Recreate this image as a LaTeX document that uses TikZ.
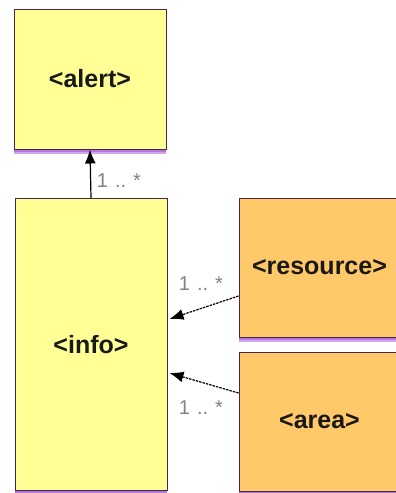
\documentclass[tikz,border=0pt]{standalone}
\usepackage{fontspec}
\setmainfont{Liberation Sans}
\usepackage{tikz}
\usetikzlibrary{arrows.meta,shadows}
\definecolor{boxyellow}{RGB}{255,255,150}
\definecolor{boxorange}{RGB}{255,200,105}
\definecolor{boxline}{RGB}{70,40,70}
\definecolor{glow}{RGB}{150,60,210}
\definecolor{multgray}{RGB}{130,130,130}

\begin{document}
\begin{tikzpicture}[x=1pt,y=-1pt,
  elem/.style={draw=boxline, line width=1pt, rectangle, inner sep=0pt,
    font=\fontsize{25}{25}\selectfont\bfseries, text=black!90,
    double copy shadow={shadow xshift=0pt, shadow yshift=-2.5pt, fill=glow, draw=none, opacity=0.45}},
  assoc/.style={-{Latex[length=14pt,width=11pt]}, line width=1.2pt, black},
  link/.style={assoc, dash pattern=on 2.5pt off 1pt},
  mult/.style={text=multgray, font=\fontsize{20}{20}\selectfont, inner sep=0pt}]
\useasboundingbox (0,0) rectangle (396,493);
\fill[white] (0,0) rectangle (396,493);
\node[elem, fill=boxyellow, minimum width=152pt, minimum height=140pt] (alert) at (90,79) {<alert>};
\node[elem, fill=boxyellow, minimum width=152pt, minimum height=292pt] (info) at (91,344.5) {<info>};
\node[elem, fill=boxorange, minimum width=161pt, minimum height=139pt] (resource) at (319.5,267.5) {<resource>};
\node[elem, fill=boxorange, minimum width=161pt, minimum height=139pt] (area) at (319.5,421.5) {<area>};
% associations
\draw[assoc] (info.north) -- (alert.south);
\draw[link] ([yshift=-28.5pt]resource.west) -- ([yshift=25.5pt,xshift=2pt]info.east);
\draw[link] ([yshift=28.5pt]area.west) -- ([yshift=-28.5pt,xshift=2pt]info.east);
\node[mult] (alertmult) at (119,181) {1\hspace{7pt}..\hspace{7pt}*};
\node[mult] (resmult) at (201,284) {1\hspace{7pt}..\hspace{7pt}*};
\node[mult] (areamult) at (201,408) {1\hspace{7pt}..\hspace{7pt}*};
\end{tikzpicture}
\end{document}
